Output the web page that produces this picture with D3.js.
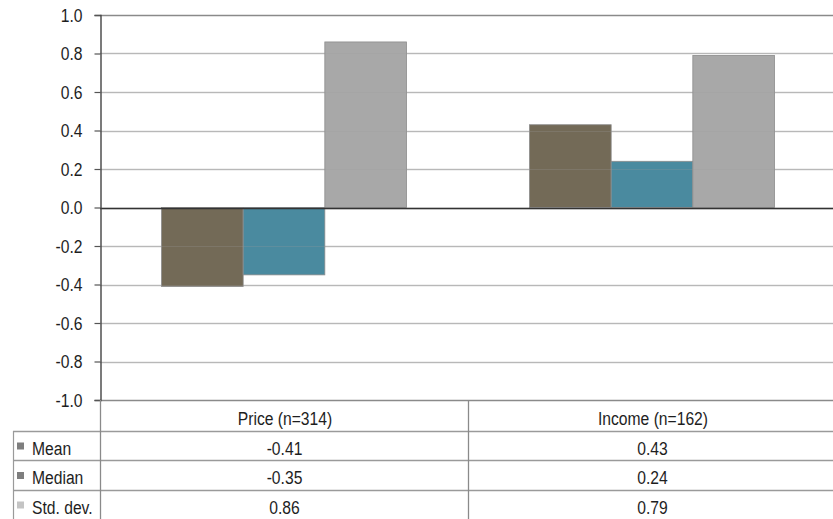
<!DOCTYPE html>
<html><head><meta charset="utf-8">
<script src="https://cdn.jsdelivr.net/npm/d3@7"></script>
<style>
html,body{margin:0;padding:0;background:#fff;}
svg{display:block;font-family:"Liberation Sans",Arial,sans-serif;}
</style></head><body>
<svg id="c" width="833" height="519"></svg>
<script>
const categories = ["Price (n=314)", "Income (n=162)"];
const seriesNames = ["Mean", "Median", "Std. dev."];
const meanValues = [-0.41, 0.43];
const medianValues = [-0.35, 0.24];
const stdValues = [0.86, 0.79];
const tableLabels = [["-0.41","0.43"],["-0.35","0.24"],["0.86","0.79"]];
const yTicks = [1.0,0.8,0.6,0.4,0.2,0.0,-0.2,-0.4,-0.6,-0.8,-1.0];
const seriesColors = ["#736a57", "#4a8a9f", "#a8a8a8"];
const seriesValues = [meanValues, medianValues, stdValues];

(function(){
const svg = d3.select("#c");
const FS = 18, SX = 0.87, TXT = "#1e1e1e";
const mLeft = 100, mRight = 836, mTop = 15, mBottom = 400;
const y = d3.scaleLinear().domain([-1, 1]).range([mBottom, mTop]);
const x0 = d3.scaleBand().domain(categories).range([mLeft, mRight]).paddingInner(0).paddingOuter(0);
const groupPad = 61.5;
const x1 = d3.scaleBand().domain(seriesNames).range([groupPad, x0.bandwidth() - groupPad]);

function ntext(g, x, yy, str, anchor) {
  return g.append("text")
    .attr("transform", `translate(${x},${yy}) scale(${SX},1)`)
    .attr("text-anchor", anchor || "start")
    .attr("font-size", FS).attr("fill", TXT).text(str);
}

// gridlines
svg.append("g").selectAll("line").data(yTicks).join("line")
  .attr("x1", mLeft).attr("x2", 833)
  .attr("y1", d => Math.round(y(d)) + 0.5).attr("y2", d => Math.round(y(d)) + 0.5)
  .attr("stroke", d => (d === 1 || d === -1) ? "#8a8a8a" : "#c2c2c2")
  .attr("stroke-width", d => (d === 1 || d === -1) ? 1.6 : 1.3);

// bars
const bars = [];
categories.forEach((c, ci) => seriesNames.forEach((s, si) => bars.push({c, s, v: seriesValues[si][ci], color: seriesColors[si]})));
svg.append("g").selectAll("rect").data(bars).join("rect")
  .attr("x", d => x0(d.c) + x1(d.s))
  .attr("width", x1.bandwidth())
  .attr("y", d => y(Math.max(0, d.v)))
  .attr("height", d => Math.abs(y(d.v) - y(0)))
  .attr("fill", d => d.color)
  .attr("stroke", "#8c8c8c").attr("stroke-width", 0.8);

// faint gridlines showing through bars
svg.append("g").selectAll("line").data(yTicks.filter(d => d !== 0 && Math.abs(d) !== 1)).join("line")
  .attr("x1", mLeft).attr("x2", 833)
  .attr("y1", d => Math.round(y(d)) + 0.5).attr("y2", d => Math.round(y(d)) + 0.5)
  .attr("stroke", "#9a9a9a").attr("stroke-opacity", 0.25).attr("stroke-width", 1);

// zero line
svg.append("line").attr("x1", mLeft).attr("x2", 833)
  .attr("y1", Math.round(y(0)) + 0.5).attr("y2", Math.round(y(0)) + 0.5)
  .attr("stroke", "#333").attr("stroke-width", 1.3);

// y axis
const yAxis = d3.axisLeft(y).tickValues(yTicks).tickFormat(d => d3.format(".1f")(d).replace("\u2212", "-")).tickSize(6).tickPadding(12);
const ga = svg.append("g").attr("transform", `translate(${mLeft + 0.5},0)`).call(yAxis);
ga.select(".domain").attr("stroke", "#444").attr("stroke-width", 1.4);
ga.selectAll(".tick line").attr("stroke", "#555").attr("stroke-width", 1.2);
ga.selectAll(".tick text").attr("font-size", FS).attr("fill", TXT)
  .attr("font-family", '"Liberation Sans",Arial,sans-serif')
  .attr("x", -18 / SX).attr("dy", "0.36em")
  .attr("transform", `scale(${SX},1)`);

// data table
const rowY = [400, 431, 460, 490, 519];
const tg = svg.append("g");
[431, 460, 490].forEach(yy => tg.append("line").attr("x1", 13).attr("x2", 833)
  .attr("y1", yy + 0.5).attr("y2", yy + 0.5).attr("stroke", "#9a9a9a").attr("stroke-width", 1.3));
tg.append("line").attr("x1", 13.5).attr("x2", 13.5).attr("y1", 431).attr("y2", 519).attr("stroke", "#9a9a9a").attr("stroke-width", 1.2);
tg.append("line").attr("x1", mLeft + 0.5).attr("x2", mLeft + 0.5).attr("y1", mBottom).attr("y2", 519).attr("stroke", "#8a8a8a").attr("stroke-width", 1.3);
tg.append("line").attr("x1", x0(categories[1]) + 0.5).attr("x2", x0(categories[1]) + 0.5).attr("y1", mBottom).attr("y2", 519).attr("stroke", "#8a8a8a").attr("stroke-width", 1.3);

categories.forEach(c => ntext(tg, x0(c) + x0.bandwidth() / 2 + 1, (rowY[0] + rowY[1]) / 2 + 9.5, c, "middle"));

const keyColors = ["#7e7e7e", "#7e7e7e", "#c4c4c4"];
seriesNames.forEach((s, si) => {
  const cy = (rowY[si + 1] + rowY[si + 2]) / 2;
  tg.append("rect").attr("x", 17).attr("y", cy - 3).attr("width", 7).attr("height", 7)
    .attr("fill", keyColors[si]);
  ntext(tg, 32, cy + 9, s, "start");
  categories.forEach((c, ci) => {
    ntext(tg, x0(c) + x0.bandwidth() / 2 + 0.5, cy + 9, tableLabels[si][ci], "middle");
  });
});
})();
</script></body></html>
